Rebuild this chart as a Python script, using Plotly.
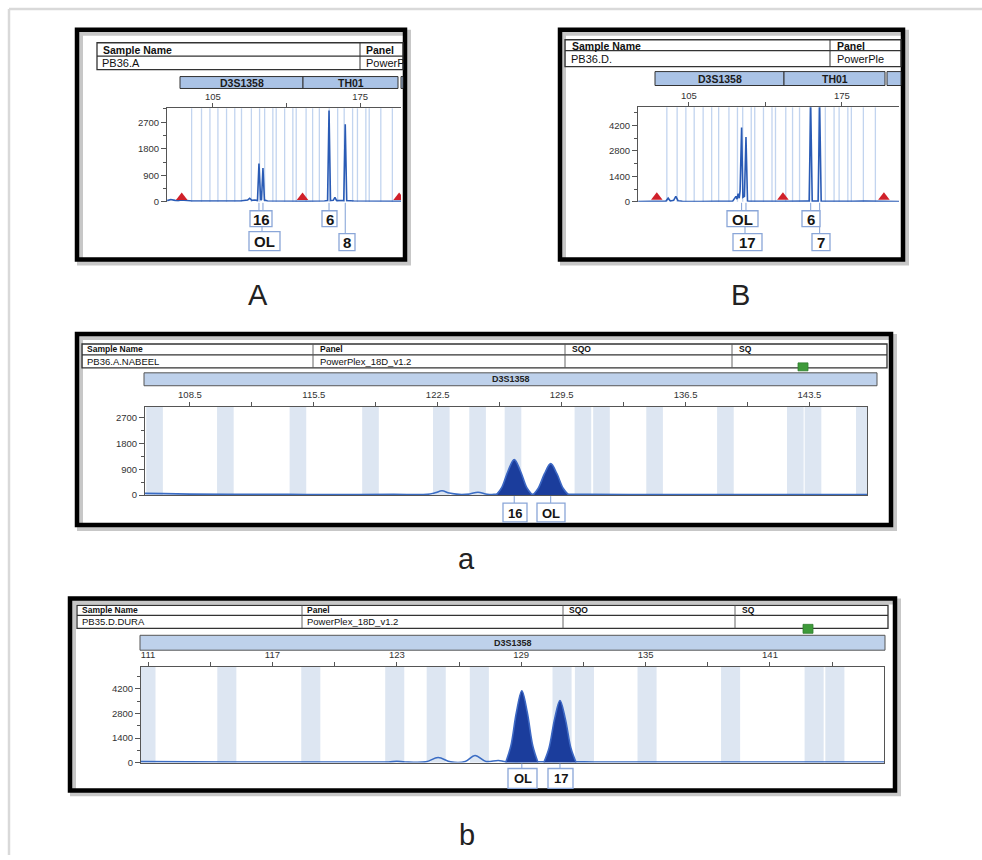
import plotly.graph_objects as go

W, H = 982, 860
FONT = "Liberation Sans, Arial, sans-serif"

# ======================= DATA =======================
# Panel A : PB36.A (D3S1358 / TH01)
A_trace_bp = [83.3, 85, 87, 88.5, 90, 92, 95, 100, 110, 118, 121.5, 122.5, 123.5, 125, 126.2,
              126.9, 127.7, 128.1, 128.8, 129.5, 131, 140, 150, 158, 159.5, 160.2, 160.9,
              162.2, 163.0, 163.8, 167.2, 167.9, 168.6, 172, 180, 190, 194.4]
A_trace_rfu = [40, 80, 50, 40, 60, 40, 30, 30, 25, 30, 60, 120, 50, 60, 40,
               1300, 80, 60, 1150, 60, 30, 20, 20, 30, 40, 3100, 40,
               50, 150, 40, 40, 2630, 40, 30, 30, 20, 20]
A_ils_bp = [90.2, 147.6, 193.5]
A_ils_rfu = [150, 150, 150]
A_peak_bp = [126.9, 128.8, 160.2, 167.9]
A_labels = ["16", "OL", "6", "8"]

# Panel B : PB36.D (D3S1358 / TH01)
B_trace_bp = [81.8, 84, 86, 88, 90.3, 92, 94.5, 95.5, 96.5, 98, 99, 100, 102, 110, 120, 125,
              126.5, 127, 127.5, 128, 128.4, 129.1, 129.7, 130.4, 131.1, 131.8, 133, 140, 150,
              159, 160.0, 160.7, 161.4, 164.1, 164.8, 165.5, 170, 175, 180, 185, 190, 195, 201.1]
B_trace_rfu = [20, 30, 40, 30, 20, 30, 40, 200, 40, 80, 300, 60, 30, 20, 30, 40,
               300, 150, 450, 200, 600, 4085, 250, 300, 3570, 40, 30, 20, 30,
               40, 40, 5400, 40, 40, 5400, 40, 30, 50, 30, 40, 30, 40, 20]
B_ils_bp = [90.3, 148.0, 194.2]
B_ils_rfu = [250, 250, 250]
B_peak_bp = [129.1, 131.1, 160.7, 164.8]
B_labels = ["OL", "17", "6", "7"]

# allele bins drawn as thin lines in A / B
AB_bins = [94.9, 99.6, 103.6, 107.4, 111.5, 115.4, 118.6, 123.3, 127.2, 129.6, 133.5, 135.1,
           139.1, 143.0, 144.6, 149.3, 152.4, 155.6, 160.3, 164.3, 167.4, 171.4, 173.7,
           177.7, 179.3, 184.8, 190.3]

# Panel a : PB36.A.NABEEL (D3S1358 zoom)
a_base_bp = [105.96, 107, 108.5, 111, 114, 117, 120, 121.9, 122.35, 122.74, 123.15, 123.7,
             124.3, 124.77, 125.3, 125.9, 128.0, 130.0, 131, 134, 138, 142, 146.75]
a_base_rfu = [60, 50, 35, 30, 25, 20, 25, 25, 80, 150, 70, 25,
              40, 100, 30, 25, 25, 25, 25, 20, 20, 20, 20]
a_peak16_bp = [125.8, 126.12, 126.47, 126.82, 127.17, 127.52, 127.84]
a_peak16_rfu = [0, 270, 840, 1235, 840, 270, 0]
a_peakOL_bp = [127.88, 128.18, 128.53, 128.88, 129.23, 129.58, 129.9]
a_peakOL_rfu = [0, 240, 745, 1095, 745, 240, 0]
a_bins = [106.5, 110.5, 114.6, 118.7, 122.7, 124.75, 126.75, 130.7, 131.75, 134.75, 138.75,
          142.7, 143.7, 146.6]
a_peak_bp = [126.82, 128.88]
a_labels = ["16", "OL"]

# Panel b : PB35.D.DURA (D3S1358 zoom)
b_base_bp = [110.66, 113, 116, 119, 121, 122.6, 123.0, 123.4, 124.4, 124.99, 125.6, 126.3,
             126.77, 127.3, 127.9, 128.25, 129.81, 130.09, 131.65, 132.5, 135, 140, 146.5]
b_base_rfu = [50, 40, 30, 35, 30, 35, 70, 35, 40, 285, 40, 60,
              400, 60, 120, 40, 40, 40, 40, 30, 30, 30, 30]
b_peakOL_bp = [128.25, 128.5, 128.77, 129.03, 129.29, 129.56, 129.81]
b_peakOL_rfu = [0, 945, 2870, 4100, 2870, 945, 0]
b_peak17_bp = [130.09, 130.34, 130.61, 130.87, 131.13, 131.4, 131.65]
b_peak17_rfu = [0, 815, 2480, 3540, 2480, 815, 0]
b_bins = [110.9, 114.8, 118.85, 122.9, 124.9, 126.98, 130.97, 132.05, 135.07, 139.1, 143.13, 144.13]
b_peak_bp = [129.03, 130.87]
b_labels = ["OL", "17"]

# axis ticks
AB_xticks = [105, 140, 175]
AB_xtext = ["105", "", "175"]
A_yticks = [0, 900, 1800, 2700]
B_yticks = [0, 1400, 2800, 4200]
a_xticks = [108.5, 112, 115.5, 119, 122.5, 126, 129.5, 133, 136.5, 140, 143.5]
a_xtext = ["108.5", "", "115.5", "", "122.5", "", "129.5", "", "136.5", "", "143.5"]
a_yticks = [0, 900, 1800, 2700]
b_xticks = [111, 114, 117, 120, 123, 126, 129, 132, 135, 138, 141, 144]
b_xtext = ["111", "", "117", "", "123", "", "129", "", "135", "", "141", ""]
b_yticks = [0, 1400, 2800, 4200]

# ======================= HELPERS =======================
shapes, annotations = [], []


def X(p):
    return p / W


def Y(p):
    return 1 - p / H


def rect(x0, y0, x1, y1, color="#333", lw=1, fill="rgba(0,0,0,0)", layer="above"):
    shapes.append(dict(type="rect", xref="paper", yref="paper", x0=X(x0), x1=X(x1),
                       y0=Y(y1), y1=Y(y0), line=dict(color=color, width=lw),
                       fillcolor=fill, layer=layer))


def line(x0, y0, x1, y1, color="#333", lw=1):
    shapes.append(dict(type="line", xref="paper", yref="paper", x0=X(x0), x1=X(x1),
                       y0=Y(y0), y1=Y(y1), line=dict(color=color, width=lw)))


def dline(xref, xv, y0, y1, color="#7f9fd6", lw=1):
    shapes.append(dict(type="line", xref=xref, yref="paper", x0=xv, x1=xv,
                       y0=Y(y0), y1=Y(y1), line=dict(color=color, width=lw)))


def txt(x, y, s, size=10, bold=False, anchor="left", color="#111"):
    annotations.append(dict(xref="paper", yref="paper", x=X(x), y=Y(y),
                            text=("<b>%s</b>" % s) if bold else s, showarrow=False,
                            xanchor=anchor, yanchor="middle",
                            font=dict(family=FONT, size=size, color=color)))


def frame(x0, y0, x1, y1):
    rect(x0 + 3, y0 + 3, x1 + 3, y1 + 3, color="rgba(0,0,0,0.22)", lw=6)
    rect(x0, y0, x1, y1, color="#000", lw=4.5)


def label_box(x0, y0, x1, y1, s, size):
    rect(x0, y0, x1, y1, color="#8aa6d8", lw=1.3, fill="white")
    txt((x0 + x1) / 2, (y0 + y1) / 2 + 0.5, s, size=size, bold=True, anchor="center", color="#151515")


# ======================= FIGURE =======================
fig = go.Figure()

LINE_BLUE = "#2a5bb5"
FILL_BLUE = "#1b3d9c"

# A
fig.add_trace(go.Scatter(x=A_trace_bp, y=A_trace_rfu, mode="lines",
                         line=dict(color=LINE_BLUE, width=1.6), xaxis="x", yaxis="y"))
fig.add_trace(go.Scatter(x=A_ils_bp, y=A_ils_rfu, mode="markers",
                         marker=dict(symbol="triangle-up", size=10, color="#d0202a"),
                         xaxis="x", yaxis="y"))
# B
fig.add_trace(go.Scatter(x=B_trace_bp, y=B_trace_rfu, mode="lines",
                         line=dict(color=LINE_BLUE, width=1.6), xaxis="x2", yaxis="y2"))
fig.add_trace(go.Scatter(x=B_ils_bp, y=B_ils_rfu, mode="markers",
                         marker=dict(symbol="triangle-up", size=10, color="#d0202a"),
                         xaxis="x2", yaxis="y2"))
# a
fig.add_trace(go.Scatter(x=a_base_bp, y=a_base_rfu, mode="lines", line_shape="spline",
                         line=dict(color="#3a6cc4", width=1.6), xaxis="x3", yaxis="y3"))
for xs, ys in [(a_peak16_bp, a_peak16_rfu), (a_peakOL_bp, a_peakOL_rfu)]:
    fig.add_trace(go.Scatter(x=xs, y=ys, mode="lines", line_shape="spline", fill="toself",
                             fillcolor=FILL_BLUE, line=dict(color="#3d68c4", width=1.6),
                             xaxis="x3", yaxis="y3"))
# b
fig.add_trace(go.Scatter(x=b_base_bp, y=b_base_rfu, mode="lines", line_shape="spline",
                         line=dict(color="#3a6cc4", width=1.6), xaxis="x4", yaxis="y4"))
for xs, ys in [(b_peakOL_bp, b_peakOL_rfu), (b_peak17_bp, b_peak17_rfu)]:
    fig.add_trace(go.Scatter(x=xs, y=ys, mode="lines", line_shape="spline", fill="toself",
                             fillcolor=FILL_BLUE, line=dict(color="#3d68c4", width=1.6),
                             xaxis="x4", yaxis="y4"))

# ---- bins ----
for b in AB_bins:
    for xr, yr in [("x", "y domain"), ("x2", "y2 domain")]:
        shapes.append(dict(type="line", xref=xr, yref=yr, x0=b, x1=b, y0=0, y1=1,
                           line=dict(color="rgba(120,160,220,0.45)", width=1.3), layer="below"))
for b in a_bins:
    shapes.append(dict(type="rect", xref="x3", yref="y3 domain", x0=b - 0.47, x1=b + 0.47,
                       y0=0, y1=1, line=dict(width=0), fillcolor="#dde6f2", layer="below"))
for b in b_bins:
    shapes.append(dict(type="rect", xref="x4", yref="y4 domain", x0=b - 0.46, x1=b + 0.46,
                       y0=0, y1=1, line=dict(width=0), fillcolor="#dde6f2", layer="below"))

# ---- outer page border ----
line(9, 9, 982, 9, color="#d9d9d9", lw=2.5)
line(9, 9, 9, 860, color="#d9d9d9", lw=2.5)

# ================= Panel A chrome =================
frame(77, 30, 405, 261)
rect(97, 43, 403, 70, color="#333", lw=1.3)
line(97, 56.5, 403, 56.5, color="#333", lw=1.3)
line(360, 43, 360, 70, color="#333", lw=1)
txt(101, 49.8, "Sample Name", size=10.5, bold=True)
txt(364, 49.8, "Panel", size=10.5, bold=True)
txt(100, 63.3, "PB36.A", size=11)
txt(364, 63.3, "PowerP", size=11)
for x0, x1, name in [(180, 303, "D3S1358"), (303, 398, "TH01"), (401, 403, "")]:
    rect(x0, 77, x1, 89, color="#333", lw=1, fill="#aac3e6")
    if name:
        txt((x0 + x1) / 2, 83, name, size=10.5, bold=True, anchor="center", color="#1a1a1a")

# ================= Panel B chrome =================
frame(560, 30, 903, 261)
rect(565, 40, 901, 67, color="#333", lw=1.3)
line(565, 51, 901, 51, color="#333", lw=1.3)
line(830, 40, 830, 67, color="#333", lw=1)
txt(570, 45.8, "Sample Name", size=10.5, bold=True)
txt(835, 45.8, "Panel", size=10.5, bold=True)
txt(569, 59.5, "PB36.D.", size=11)
txt(835, 59.5, "PowerPle", size=11)
for x0, x1, name in [(655, 784, "D3S1358"), (784, 885, "TH01"), (887, 901, "")]:
    rect(x0, 72, x1, 86, color="#333", lw=1, fill="#aac3e6")
    if name:
        txt((x0 + x1) / 2, 79, name, size=10.5, bold=True, anchor="center", color="#1a1a1a")

# ================= Panel a chrome =================
frame(77, 336, 891, 528)
rect(82, 346, 887, 370, color="#333", lw=1.3)
line(82, 357, 887, 357, color="#333", lw=1.3)
for xd in [313, 565, 732]:
    line(xd, 346, xd, 370, color="#555", lw=0.9)
txt(85, 351.5, "Sample Name", size=8.5, bold=True)
txt(318, 351.5, "Panel", size=8.5, bold=True)
txt(570, 351.5, "SQO", size=8.5, bold=True)
txt(737, 351.5, "SQ", size=8.5, bold=True)
txt(85, 363.8, "PB36.A.NABEEL", size=9.5)
txt(318, 363.8, "PowerPlex_18D_v1.2", size=9.5)
rect(798, 365, 808, 373, color="#2f7d2f", lw=0.8, fill="#3e9a3a")
rect(144, 375, 877, 388, color="#555", lw=1, fill="#bed1eb")
txt(511, 381.5, "D3S1358", size=9, bold=True, anchor="center", color="#222")

# ================= Panel b chrome =================
frame(70, 602, 895, 795)
rect(77, 609, 888, 632, color="#333", lw=1.3)
line(77, 619, 888, 619, color="#333", lw=1.3)
for xd in [302, 563, 735]:
    line(xd, 609, xd, 632, color="#555", lw=0.9)
txt(80, 614, "Sample Name", size=8.5, bold=True)
txt(305, 614, "Panel", size=8.5, bold=True)
txt(567, 614, "SQO", size=8.5, bold=True)
txt(740, 614, "SQ", size=8.5, bold=True)
txt(80, 625.5, "PB35.D.DURA", size=9.5)
txt(305, 625.5, "PowerPlex_18D_v1.2", size=9.5)
rect(803, 628, 813, 637, color="#2f7d2f", lw=0.8, fill="#3e9a3a")
rect(140, 639, 885, 654, color="#555", lw=1, fill="#bed1eb")
txt(513, 646.5, "D3S1358", size=9, bold=True, anchor="center", color="#222")

# ================= allele call labels =================
# A
dline("x", A_peak_bp[0], 204, 212)
dline("x", A_peak_bp[1], 204, 212)
dline("x", A_peak_bp[2], 204, 212)
dline("x", A_peak_bp[3], 204, 235)
line(262, 228, 262, 233, color="#7f9fd6", lw=1)
label_box(250, 212, 272, 228, A_labels[0], 15)
label_box(249, 233, 280, 252, A_labels[1], 15)
label_box(322, 212, 337, 228, A_labels[2], 15)
label_box(339, 235, 355, 252, A_labels[3], 15)
# B
dline("x2", B_peak_bp[0], 204, 212)
dline("x2", B_peak_bp[1], 204, 212)
dline("x2", B_peak_bp[2], 204, 212)
dline("x2", B_peak_bp[3], 204, 235)
line(745, 228, 745, 235, color="#7f9fd6", lw=1)
label_box(727, 212, 758, 228, B_labels[0], 15)
label_box(733, 235, 762, 252, B_labels[1], 15)
label_box(802, 212, 820, 228, B_labels[2], 15)
label_box(812, 235, 830, 252, B_labels[3], 15)
# a
dline("x3", a_peak_bp[0], 499, 506)
dline("x3", a_peak_bp[1], 499, 506)
label_box(503, 506, 527, 525, a_labels[0], 13)
label_box(537, 506, 565, 525, a_labels[1], 13)
# b
dline("x4", b_peak_bp[0], 768, 773)
dline("x4", b_peak_bp[1], 768, 773)
label_box(508, 773, 537, 793, b_labels[0], 13)
label_box(548, 773, 573, 793, b_labels[1], 13)

# ================= captions =================
txt(258, 297, "A", size=29, color="#222", anchor="center")
txt(740, 297, "B", size=29, color="#222", anchor="center")
txt(466, 562, "a", size=29, color="#222", anchor="center")
txt(467, 840, "b", size=29, color="#222", anchor="center")


# ================= axes =================
def xax(x0, x1, rng, tv, tt, anchor, mirror):
    return dict(domain=[X(x0), X(x1)], range=rng, anchor=anchor, side="top",
                showline=True, mirror=mirror, linecolor="#555", linewidth=1,
                ticks="outside", ticklen=4, tickcolor="#555", tickvals=tv, ticktext=tt,
                tickfont=dict(family=FONT, size=9.5, color="#333"),
                showgrid=False, zeroline=False, fixedrange=True)


def yax(top, zero, rng, tv, minor, anchor, mirror):
    return dict(domain=[Y(zero), Y(top)], range=rng, anchor=anchor,
                showline=True, mirror=mirror, linecolor="#555", linewidth=1,
                ticks="outside", ticklen=5, tickcolor="#555", tickvals=tv,
                minor=dict(ticks="outside", ticklen=3, tickcolor="#555", dtick=minor, tick0=0),
                tickfont=dict(family=FONT, size=9.5, color="#333"),
                showgrid=False, zeroline=False, fixedrange=True)


fig.update_layout(
    width=W, height=H, margin=dict(l=0, r=0, t=0, b=0),
    paper_bgcolor="white", plot_bgcolor="rgba(0,0,0,0)", showlegend=False,
    hovermode=False,
    xaxis=xax(167, 401, [83.2, 194.4], AB_xticks, AB_xtext, "y", False),
    yaxis=yax(109, 203, [0, 3170], A_yticks, 450, "x", False),
    xaxis2=xax(638, 899, [81.7, 201.1], AB_xticks, AB_xtext, "y2", False),
    yaxis2=yax(108, 203, [0, 5200], B_yticks, 700, "x2", False),
    xaxis3=xax(145, 867, [105.96, 146.75], a_xticks, a_xtext, "y3", True),
    yaxis3=yax(409, 498, [0, 3080], a_yticks, 450, "x3", True),
    xaxis4=xax(141, 884, [110.66, 146.5], b_xticks, b_xtext, "y4", True),
    yaxis4=yax(671, 767, [0, 5450], b_yticks, 700, "x4", True),
    shapes=shapes, annotations=annotations,
)

fig.write_html("out.html", config={"displayModeBar": False},
               post_script="document.body.style.margin='0px';document.body.style.overflow='hidden';")
